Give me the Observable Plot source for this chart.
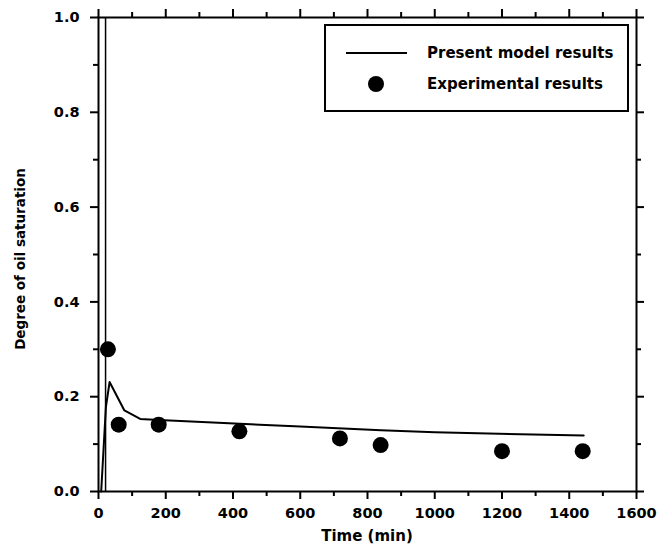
<!DOCTYPE html>
<html><head><meta charset="utf-8">
<script src="https://cdn.jsdelivr.net/npm/d3@7"></script>
<script src="https://cdn.jsdelivr.net/npm/@observablehq/plot@0.6"></script>
<style>body{margin:0;background:#fff}</style>
</head><body><div id="chart"></div>
<script>
// Experimental results
const expTime = [28, 60, 179, 419, 718, 839, 1200, 1440];
const expSat  = [0.300, 0.141, 0.141, 0.127, 0.112, 0.098, 0.085, 0.085];
// Present model results
const modelTime = [8, 22, 33, 77, 124, 180, 420, 600, 840, 1000, 1443];
const modelSat  = [0.0, 0.178, 0.231, 0.171, 0.153, 0.151, 0.143, 0.137, 0.129, 0.125, 0.118];
// vertical reference line
const markerTime = [21];
// ticks
const xMajor = [0, 200, 400, 600, 800, 1000, 1200, 1400, 1600];
const xMinor = [100, 300, 500, 700, 900, 1100, 1300, 1500];
const yMajor = [0, 0.2, 0.4, 0.6, 0.8, 1.0];
const yMinor = [0.1, 0.3, 0.5, 0.7, 0.9];
const xTitle = "Time (min)";
const yTitle = "Degree of oil saturation";
const legendLabels = ["Present model results", "Experimental results"];

const exp = expTime.map((t, i) => ({t, s: expSat[i]}));
const model = modelTime.map((t, i) => ({t, s: modelSat[i]}));

const W = 657, H = 550, ML = 98, MR = 21, MT = 17, MB = 59;
const PW = W - ML - MR, PH = H - MT - MB;
const big = 8, small = 5;

const chart = Plot.plot({
  width: W, height: H,
  marginLeft: ML, marginRight: MR, marginTop: MT, marginBottom: MB,
  x: {domain: [0, 1600]},
  y: {domain: [0, 1]},
  style: {fontFamily: "'DejaVu Sans', sans-serif", fontWeight: "bold", fontSize: "14.5px", color: "black", background: "white"},
  marks: [
    Plot.ruleX(markerTime, {strokeWidth: 1.5}),
    Plot.line(model, {x: "t", y: "s", stroke: "black", strokeWidth: 2}),
    Plot.dot(exp, {x: "t", y: "s", r: 8, fill: "black", stroke: "none"}),
    // tick marks (outward on all four sides)
    Plot.ruleX(xMajor, {insetTop: PH, insetBottom: -big, strokeWidth: 2}),
    Plot.ruleX(xMinor, {insetTop: PH, insetBottom: -small, strokeWidth: 2}),
    Plot.ruleX(xMajor, {insetTop: -big, insetBottom: PH, strokeWidth: 2}),
    Plot.ruleX(xMinor, {insetTop: -small, insetBottom: PH, strokeWidth: 2}),
    Plot.ruleY(yMajor, {insetLeft: -big, insetRight: PW, strokeWidth: 2}),
    Plot.ruleY(yMinor, {insetLeft: -small, insetRight: PW, strokeWidth: 2}),
    Plot.ruleY(yMajor, {insetLeft: PW, insetRight: -big, strokeWidth: 2}),
    Plot.ruleY(yMinor, {insetLeft: PW, insetRight: -small, strokeWidth: 2}),
    // tick labels
    Plot.axisX({anchor: "bottom", ticks: xMajor, tickSize: 0, tickPadding: 16, tickFormat: d => String(d), label: null}),
    Plot.axisY({anchor: "left", ticks: yMajor, tickSize: 0, tickPadding: 19, tickFormat: d3.format(".1f"), label: null}),
    Plot.frame({stroke: "black", strokeWidth: 2})
  ]
});
document.getElementById("chart").appendChild(chart);

const svg = d3.select(chart);
// axis titles
svg.append("text").attr("x", ML + PW / 2).attr("y", 536).attr("dy", "0.35em")
  .attr("text-anchor", "middle").attr("font-size", "15px").attr("font-weight", "bold").text(xTitle);
svg.append("text").attr("transform", "translate(20,259) rotate(-90)").attr("dy", "0.35em")
  .attr("text-anchor", "middle").attr("font-size", "13.5px").attr("font-weight", "bold").text(yTitle);
// legend
const lg = svg.append("g");
lg.append("rect").attr("x", 325).attr("y", 25).attr("width", 303).attr("height", 86)
  .attr("fill", "white").attr("stroke", "black").attr("stroke-width", 2);
lg.append("line").attr("x1", 346).attr("x2", 407).attr("y1", 53).attr("y2", 53)
  .attr("stroke", "black").attr("stroke-width", 2);
lg.append("circle").attr("cx", 376).attr("cy", 84).attr("r", 8).attr("fill", "black");
legendLabels.forEach((l, i) => {
  lg.append("text").attr("x", 427).attr("y", i === 0 ? 53 : 84).attr("dy", "0.35em")
    .attr("text-anchor", "start").attr("font-size", "15px").attr("font-weight", "bold").text(l);
});
</script>
</body></html>
